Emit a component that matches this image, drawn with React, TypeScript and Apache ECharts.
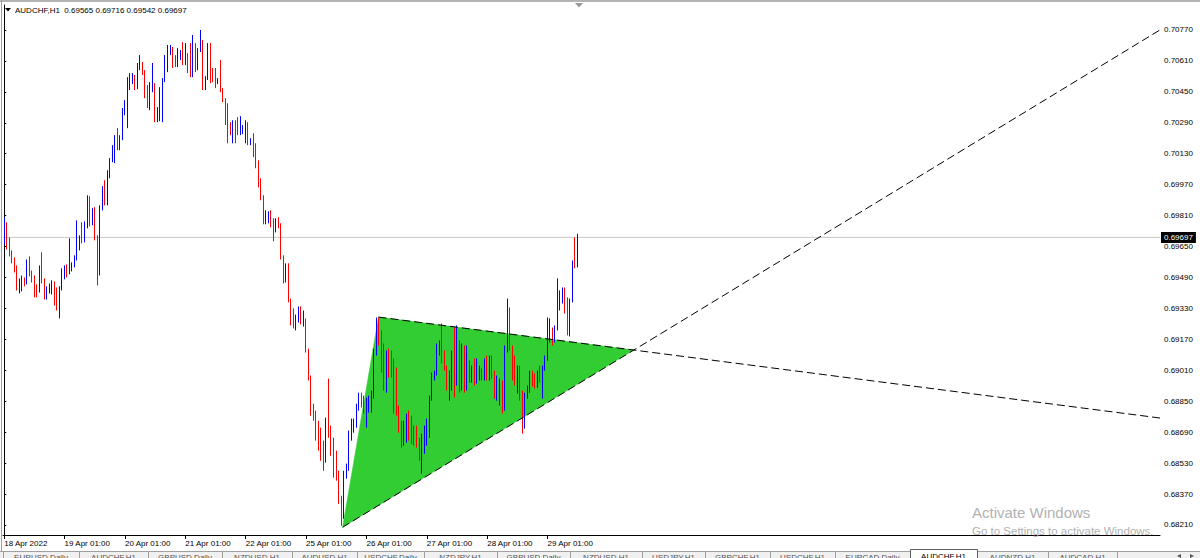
import React, { useEffect, useRef } from "react";
import * as echarts from "echarts";

// ---------- data ----------
const symbol = "AUDCHF";
const timeframe = "H1";

// hourly candles, [open, close, low, high]
const candles: number[][] = [
  // 18 Apr
  [0.69671,0.69760,0.69661,0.69801],[0.69760,0.69646,0.69635,0.69775],[0.69646,0.69614,0.69599,0.69697],
  [0.69614,0.69578,0.69563,0.69630],[0.69578,0.69537,0.69516,0.69594],[0.69537,0.69433,0.69423,0.69552],
  [0.69433,0.69475,0.69407,0.69485],[0.69469,0.69480,0.69418,0.69500],[0.69480,0.69464,0.69444,0.69490],
  [0.69464,0.69568,0.69454,0.69583],[0.69568,0.69511,0.69495,0.69599],[0.69511,0.69485,0.69464,0.69526],
  [0.69485,0.69438,0.69387,0.69500],[0.69438,0.69423,0.69387,0.69454],[0.69423,0.69537,0.69412,0.69552],
  [0.69537,0.69475,0.69459,0.69620],[0.69475,0.69387,0.69376,0.69485],[0.69387,0.69433,0.69376,0.69444],
  [0.69433,0.69449,0.69407,0.69459],[0.69449,0.69459,0.69402,0.69475],[0.69459,0.69387,0.69345,0.69469],
  [0.69387,0.69335,0.69319,0.69438],[0.69335,0.69433,0.69278,0.69444],[0.69433,0.69511,0.69423,0.69537],
  // 19 Apr
  [0.69511,0.69526,0.69480,0.69552],[0.69526,0.69516,0.69490,0.69557],[0.69516,0.69537,0.69506,0.69692],
  [0.69537,0.69552,0.69521,0.69568],[0.69552,0.69589,0.69542,0.69604],[0.69589,0.69640,0.69578,0.69785],
  [0.69640,0.69692,0.69630,0.69708],[0.69692,0.69682,0.69666,0.69775],[0.69682,0.69770,0.69671,0.69780],
  [0.69770,0.69899,0.69744,0.69915],[0.69899,0.69775,0.69754,0.69910],[0.69775,0.69811,0.69760,0.69848],
  [0.69811,0.69692,0.69682,0.69853],[0.69692,0.69511,0.69449,0.69708],[0.69511,0.69848,0.69500,0.69863],
  [0.69848,0.69889,0.69837,0.69962],[0.69889,0.69873,0.69863,0.69993],[0.69873,0.70029,0.69863,0.70044],
  [0.70029,0.70096,0.70003,0.70107],[0.70096,0.70138,0.70086,0.70174],[0.70138,0.70200,0.70081,0.70226],
  [0.70200,0.70164,0.70148,0.70262],[0.70164,0.70215,0.70148,0.70226],[0.70215,0.70345,0.70200,0.70366],
  // 20 Apr
  [0.70345,0.70397,0.70329,0.70407],[0.70397,0.70469,0.70262,0.70526],[0.70469,0.70521,0.70459,0.70547],
  [0.70521,0.70531,0.70490,0.70547],[0.70531,0.70474,0.70459,0.70537],[0.70474,0.70588,0.70464,0.70599],
  [0.70588,0.70599,0.70562,0.70640],[0.70599,0.70547,0.70537,0.70604],[0.70547,0.70448,0.70417,0.70562],
  [0.70448,0.70371,0.70366,0.70485],[0.70371,0.70459,0.70355,0.70500],[0.70459,0.70485,0.70448,0.70599],
  [0.70485,0.70303,0.70293,0.70495],[0.70303,0.70319,0.70293,0.70371],[0.70319,0.70345,0.70298,0.70474],
  [0.70345,0.70511,0.70293,0.70521],[0.70511,0.70562,0.70500,0.70640],[0.70562,0.70650,0.70552,0.70692],
  [0.70650,0.70676,0.70640,0.70692],[0.70676,0.70630,0.70573,0.70682],[0.70630,0.70588,0.70578,0.70640],
  [0.70588,0.70625,0.70578,0.70676],[0.70625,0.70656,0.70614,0.70666],[0.70656,0.70599,0.70588,0.70707],
  // 21 Apr
  [0.70599,0.70640,0.70588,0.70702],[0.70640,0.70578,0.70547,0.70650],[0.70578,0.70537,0.70526,0.70702],
  [0.70537,0.70692,0.70526,0.70744],[0.70692,0.70614,0.70552,0.70702],[0.70614,0.70666,0.70562,0.70676],
  [0.70666,0.70707,0.70656,0.70770],[0.70707,0.70469,0.70459,0.70718],[0.70469,0.70521,0.70459,0.70531],
  [0.70521,0.70630,0.70511,0.70702],[0.70630,0.70562,0.70495,0.70702],[0.70562,0.70511,0.70500,0.70573],
  [0.70511,0.70500,0.70469,0.70573],[0.70500,0.70511,0.70490,0.70521],[0.70511,0.70459,0.70448,0.70614],
  [0.70459,0.70407,0.70397,0.70469],[0.70407,0.70288,0.70278,0.70417],[0.70288,0.70278,0.70184,0.70391],
  [0.70278,0.70236,0.70226,0.70293],[0.70236,0.70252,0.70184,0.70303],[0.70252,0.70246,0.70184,0.70303],
  [0.70246,0.70236,0.70226,0.70319],[0.70236,0.70252,0.70226,0.70324],[0.70252,0.70267,0.70231,0.70278],
  // 22 Apr
  [0.70267,0.70283,0.70184,0.70303],[0.70283,0.70184,0.70174,0.70293],[0.70184,0.70200,0.70174,0.70210],
  [0.70200,0.70174,0.70112,0.70236],[0.70174,0.70060,0.70055,0.70184],[0.70060,0.69993,0.69956,0.70096],
  [0.69993,0.69905,0.69889,0.70003],[0.69905,0.69775,0.69765,0.69915],[0.69775,0.69811,0.69765,0.69837],
  [0.69811,0.69822,0.69770,0.69832],[0.69822,0.69785,0.69749,0.69837],[0.69785,0.69749,0.69677,0.69796],
  [0.69749,0.69785,0.69723,0.69796],[0.69785,0.69760,0.69744,0.69801],[0.69760,0.69594,0.69583,0.69770],
  [0.69594,0.69475,0.69459,0.69604],[0.69475,0.69552,0.69464,0.69563],[0.69552,0.69371,0.69361,0.69563],
  [0.69371,0.69283,0.69242,0.69381],[0.69283,0.69242,0.69226,0.69330],[0.69242,0.69278,0.69216,0.69298],
  [0.69278,0.69293,0.69257,0.69340],[0.69293,0.69257,0.69247,0.69340],[0.69257,0.69267,0.69236,0.69319],
  // 25 Apr
  [0.69267,0.69112,0.69102,0.69278],[0.69112,0.68972,0.68957,0.69122],[0.68972,0.68786,0.68775,0.68983],
  [0.68786,0.68765,0.68749,0.68837],[0.68765,0.68661,0.68646,0.68801],[0.68661,0.68646,0.68594,0.68749],
  [0.68646,0.68630,0.68542,0.68713],[0.68630,0.68542,0.68490,0.68646],[0.68542,0.68749,0.68532,0.68765],
  [0.68749,0.68682,0.68661,0.68967],[0.68682,0.68610,0.68568,0.68724],[0.68610,0.68527,0.68454,0.68661],
  [0.68527,0.68454,0.68439,0.68594],[0.68454,0.68335,0.68319,0.68490],[0.68335,0.68231,0.68206,0.68361],
  [0.68257,0.68465,0.68242,0.68490],[0.68465,0.68501,0.68449,0.68527],[0.68501,0.68687,0.68490,0.68698],
  [0.68687,0.68708,0.68646,0.68760],[0.68708,0.68724,0.68687,0.68760],[0.68724,0.68817,0.68713,0.68837],
  [0.68817,0.68879,0.68801,0.68894],[0.68879,0.68863,0.68817,0.68894],[0.68863,0.68801,0.68786,0.68879],
  // 26 Apr
  [0.68801,0.68843,0.68713,0.68869],[0.68843,0.68853,0.68791,0.68879],[0.68853,0.68879,0.68791,0.68905],
  [0.68879,0.69102,0.68863,0.69122],[0.69102,0.69257,0.69086,0.69283],[0.69257,0.69164,0.69138,0.69283],
  [0.69164,0.69019,0.68998,0.69216],[0.69019,0.68967,0.68905,0.69148],[0.68967,0.69102,0.68894,0.69112],
  [0.69102,0.69060,0.68972,0.69122],[0.69060,0.69019,0.68972,0.69112],[0.69019,0.68853,0.68786,0.69071],
  [0.68853,0.68786,0.68775,0.69024],[0.68786,0.68708,0.68687,0.68827],[0.68708,0.68661,0.68610,0.68749],
  [0.68661,0.68682,0.68620,0.68749],[0.68682,0.68765,0.68635,0.68786],[0.68765,0.68749,0.68646,0.68801],
  [0.68749,0.68687,0.68630,0.68775],[0.68687,0.68656,0.68620,0.68724],[0.68656,0.68646,0.68610,0.68724],
  [0.68646,0.68558,0.68542,0.68661],[0.68558,0.68646,0.68475,0.68682],[0.68646,0.68708,0.68578,0.68724],
  // 27 Apr
  [0.68708,0.68724,0.68620,0.68760],[0.68724,0.68869,0.68661,0.68879],[0.68869,0.68983,0.68853,0.68998],
  [0.68983,0.68998,0.68957,0.69008],[0.68998,0.69138,0.68983,0.69148],[0.69138,0.69148,0.69086,0.69164],
  [0.69148,0.69096,0.69045,0.69252],[0.69096,0.69019,0.69008,0.69112],[0.69019,0.68931,0.68905,0.69034],
  [0.68931,0.68998,0.68853,0.69008],[0.68998,0.69086,0.68905,0.69112],[0.69086,0.68941,0.68869,0.69231],
  [0.68941,0.69138,0.68931,0.69242],[0.69138,0.68915,0.68894,0.69164],[0.68915,0.69128,0.68905,0.69148],
  [0.69128,0.68931,0.68894,0.69138],[0.68931,0.68998,0.68905,0.69138],[0.68998,0.68967,0.68946,0.69060],
  [0.68967,0.68998,0.68946,0.69034],[0.68998,0.68957,0.68931,0.69071],[0.68957,0.68983,0.68941,0.69071],
  [0.68983,0.69008,0.68957,0.69034],[0.69008,0.68972,0.68957,0.69019],[0.68972,0.69050,0.68957,0.69071],
  // 28 Apr
  [0.69050,0.68972,0.68957,0.69086],[0.68972,0.69076,0.68957,0.69086],[0.69076,0.68983,0.68967,0.69086],
  [0.68983,0.68879,0.68863,0.69008],[0.68879,0.68931,0.68853,0.68983],[0.68931,0.68941,0.68827,0.68967],
  [0.68941,0.68812,0.68786,0.68957],[0.68812,0.69112,0.68801,0.69138],[0.69112,0.69267,0.69102,0.69381],
  [0.69267,0.69122,0.69112,0.69335],[0.69122,0.68972,0.68957,0.69138],[0.68972,0.68957,0.68931,0.69086],
  [0.68957,0.69019,0.68889,0.69034],[0.69019,0.68894,0.68853,0.69034],[0.68894,0.68749,0.68682,0.68905],
  [0.68749,0.68879,0.68708,0.68894],[0.68879,0.68915,0.68863,0.68931],[0.68915,0.68993,0.68894,0.69008],
  [0.68993,0.68941,0.68926,0.69008],[0.68941,0.68931,0.68915,0.68993],[0.68931,0.68993,0.68920,0.69008],
  [0.68993,0.68957,0.68946,0.69034],[0.68957,0.69024,0.68863,0.69034],[0.69024,0.69076,0.69008,0.69086],
  // 29 Apr
  [0.69076,0.69174,0.69060,0.69283],[0.69174,0.69216,0.69153,0.69278],[0.69216,0.69164,0.69138,0.69231],
  [0.69164,0.69226,0.69153,0.69242],[0.69226,0.69355,0.69216,0.69485],[0.69355,0.69371,0.69319,0.69423],
  [0.69371,0.69381,0.69355,0.69438],[0.69381,0.69371,0.69304,0.69438],[0.69371,0.69200,0.69190,0.69387],
  [0.69200,0.69371,0.69185,0.69381],[0.69371,0.69563,0.69361,0.69578],[0.69568,0.69563,0.69537,0.69697],
  [0.69565,0.69697,0.69542,0.69716],
];

// day separators (bar index where each label sits) and their texts
const dayStarts = [0, 24, 48, 72, 96, 120, 144, 168, 192, 216];
const dayLabels = [
  "18 Apr 2022", "19 Apr 01:00", "20 Apr 01:00", "21 Apr 01:00", "22 Apr 01:00",
  "25 Apr 01:00", "26 Apr 01:00", "27 Apr 01:00", "28 Apr 01:00", "29 Apr 01:00",
];
const SLOT_COUNT = 460; // visible bar slots incl. chart shift space

const priceTicks = [
  0.7077, 0.7061, 0.7045, 0.7029, 0.7013, 0.6997, 0.6981, 0.6965, 0.6949,
  0.6933, 0.6917, 0.6901, 0.6885, 0.6869, 0.6853, 0.6837, 0.6821,
];
const Y_MIN = 0.68158;
const Y_MAX = 0.70899;

// triangle object (bar index, price)
const triIndex = [134.5, 148.8, 250.2];
const triPrice = [0.68198, 0.69285, 0.69115];
// trend lines (bar index, price)
const lowerTrend = [[134.5, 0.68198], [459.5, 0.7077]];
const upperTrend = [[148.8, 0.69285], [459.5, 0.68763]];

const tabNames = [
  "EURUSD,Daily", "AUDCHF,H1", "GBPUSD,Daily", "NZDUSD,H1", "AUDUSD,H1", "USDCHF,Daily",
  "NZDJPY,H1", "GBPUSD,Daily", "NZDUSD,H1", "USDJPY,H1", "GBPCHF,H1", "USDCHF,H1",
  "EURCAD,Daily", "AUDCHF,H1", "AUDNZD,H1", "AUDCAD,H1",
];
const ACTIVE_TAB = 13;
const tabEdges = [3, 79, 148, 222, 292, 357, 424, 497, 570, 642, 705, 770, 835, 910, 977, 1048, 1117];

const FONT = '"Liberation Sans", Arial, sans-serif';

export default function App() {
  const ref = useRef<HTMLDivElement>(null);

  useEffect(() => {
    if (!ref.current) return;
    const chart = echarts.init(ref.current, null, { renderer: "svg" });

    const categories: string[] = new Array(SLOT_COUNT).fill("");
    dayStarts.forEach((idx, i) => (categories[idx] = dayLabels[i]));

    const last = candles[candles.length - 1];
    const lastClose = last[1];
    const header = `${symbol},${timeframe}  ${last[0].toFixed(5)} ${last[3].toFixed(5)} ${last[2].toFixed(5)} ${last[1].toFixed(5)}`;

    const graphics: any[] = [];
    // top frame band & left border
    graphics.push({ type: "rect", shape: { x: 0, y: 0, width: 1200, height: 2 }, style: { fill: "#b4b4b4" }, z: 50 });
    graphics.push({ type: "rect", shape: { x: 1, y: 0, width: 1, height: 551 }, style: { fill: "#a0a0a0" }, z: 50 });
    // chart shift marker
    graphics.push({ type: "polygon", shape: { points: [[575, 3], [583, 3], [579, 7.5]] }, style: { fill: "#9a9a9a" }, z: 50 });
    // header
    graphics.push({ type: "polygon", shape: { points: [[5, 8], [11, 8], [8, 11.5]] }, style: { fill: "#000" }, z: 50 });
    graphics.push({
      type: "text", x: 15, y: 10, z: 50,
      style: { text: header, fill: "#000", font: `8px ${FONT}`, verticalAlign: "middle", align: "left" },
    });
    // tab bar
    graphics.push({ type: "rect", shape: { x: 0, y: 551, width: 1200, height: 7 }, style: { fill: "#f0f0f0" }, z: 50 });
    graphics.push({ type: "line", shape: { x1: 0, y1: 551.5, x2: 1200, y2: 551.5 }, style: { stroke: "#a0a0a0", lineWidth: 1 }, z: 51 });
    tabEdges.forEach((x) => {
      graphics.push({ type: "line", shape: { x1: x + 0.5, y1: 552, x2: x + 0.5, y2: 558 }, style: { stroke: "#a0a0a0", lineWidth: 1 }, z: 51 });
    });
    const a0 = tabEdges[ACTIVE_TAB], a1 = tabEdges[ACTIVE_TAB + 1];
    graphics.push({
      type: "rect", shape: { x: a0 + 0.5, y: 549.5, width: a1 - a0, height: 10 },
      style: { fill: "#ffffff", stroke: "#606060", lineWidth: 1 }, z: 52,
    });
    tabNames.forEach((name, i) => {
      const x0 = tabEdges[i], x1 = tabEdges[i + 1];
      graphics.push({
        type: "text", x: (x0 + x1) / 2, y: i === ACTIVE_TAB ? 552.5 : 553.5, z: 53,
        style: { text: name, fill: i === ACTIVE_TAB ? "#000" : "#555", font: `8px ${FONT}`, align: "center", verticalAlign: "top" },
      });
    });
    graphics.push({ type: "polygon", shape: { points: [[1181, 554], [1181, 558], [1177, 556]] }, style: { fill: "#555" }, z: 53 });
    graphics.push({ type: "polygon", shape: { points: [[1190, 554], [1190, 558], [1194, 556]] }, style: { fill: "#555" }, z: 53 });
    // Windows watermark
    graphics.push({
      type: "text", x: 972, y: 512, z: 60,
      style: { text: "Activate Windows", fill: "#b2b2b2", font: `15px ${FONT}`, verticalAlign: "middle", align: "left" },
    });
    graphics.push({
      type: "text", x: 972, y: 531, z: 60,
      style: { text: "Go to Settings to activate Windows.", fill: "#b2b2b2", font: `11.5px ${FONT}`, verticalAlign: "middle", align: "left" },
    });

    const dashed = [8, 4];

    chart.setOption({
      animation: false,
      backgroundColor: "#ffffff",
      grid: { left: 3, right: 40, top: 5, bottom: 23, containLabel: false, outerBoundsMode: "none" },
      xAxis: [
        {
          type: "category",
          data: categories,
          boundaryGap: true,
          axisLine: { show: true, lineStyle: { color: "#000", width: 1 } },
          axisTick: {
            show: true, alignWithLabel: true, length: 4,
            interval: (_i: number, v: string) => v !== "",
            lineStyle: { color: "#000" },
          },
          axisLabel: {
            show: true,
            interval: (_i: number, v: string) => v !== "",
            align: "left", color: "#000", fontSize: 8, fontFamily: FONT, margin: 4,
          },
          splitLine: { show: false },
        },
        { type: "value", min: -0.5, max: SLOT_COUNT - 0.5, show: false },
      ],
      yAxis: [
        {
          type: "value", position: "right", min: Y_MIN, max: Y_MAX,
          axisLine: { show: true, lineStyle: { color: "#000", width: 1 } },
          axisTick: { show: true, length: 2, customValues: priceTicks, lineStyle: { color: "#000" } },
          axisLabel: {
            customValues: priceTicks,
            formatter: (v: number) => v.toFixed(5),
            color: "#000", fontSize: 8, fontFamily: FONT, margin: 4,
          },
          splitLine: { show: false },
        },
        {
          type: "value", position: "right", min: Y_MIN, max: Y_MAX,
          axisLine: { show: false }, axisTick: { show: false },
          axisLabel: {
            customValues: [lastClose],
            formatter: (v: number) => v.toFixed(5),
            color: "#fff", backgroundColor: "#000", padding: [2, 3, 1, 3],
            fontSize: 8, fontFamily: FONT, margin: 1,
          },
          splitLine: { show: false },
        },
      ],
      series: [
        {
          type: "custom",
          name: "triangle",
          xAxisIndex: 1, yAxisIndex: 0, z: 1, silent: true,
          data: triIndex.map((x, i) => [x, triPrice[i]]),
          renderItem: (params: any, api: any) => {
            if (params.dataIndex !== 0) return null;
            const pts = triIndex.map((x, i) => api.coord([x, triPrice[i]]));
            return { type: "polygon", shape: { points: pts }, style: { fill: "#32cd32", stroke: "#32cd32", lineWidth: 0.5 } };
          },
        },
        {
          type: "line", name: "last", xAxisIndex: 1, yAxisIndex: 0, z: 1, silent: true,
          data: [[-0.5, lastClose], [SLOT_COUNT - 0.5, lastClose]],
          symbol: "none", lineStyle: { color: "#c8c8c8", width: 1 },
        },
        {
          type: "candlestick", name: symbol, xAxisIndex: 0, yAxisIndex: 0, z: 3,
          data: candles, barWidth: 1.2,
          itemStyle: { color: "#0000ff", color0: "#ff0000", borderColor: "#0000ff", borderColor0: "#ff0000", borderWidth: 1 },
        },
        {
          type: "line", name: "lower", xAxisIndex: 1, yAxisIndex: 0, z: 4, silent: true,
          data: lowerTrend, symbol: "none",
          lineStyle: { color: "#000", width: 1, type: dashed },
        },
        {
          type: "line", name: "upper", xAxisIndex: 1, yAxisIndex: 0, z: 4, silent: true,
          data: upperTrend, symbol: "none",
          lineStyle: { color: "#000", width: 1, type: dashed },
        },
      ],
      graphic: graphics,
    });

    return () => chart.dispose();
  }, []);

  return (
    <div
      ref={ref}
      style={{ position: "fixed", left: 0, top: 0, width: 1200, height: 558, background: "#fff" }}
    />
  );
}
